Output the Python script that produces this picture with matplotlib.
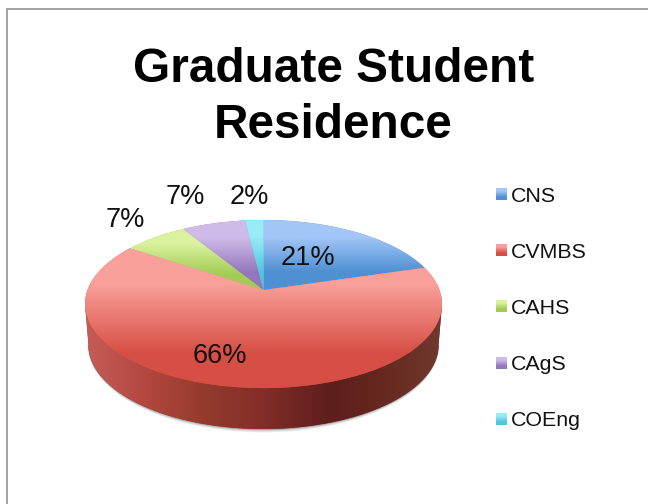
#!/usr/bin/env python3
"""Graduate Student Residence - tilted 3D style pie"""

import matplotlib
matplotlib.use('Agg')
import matplotlib.pyplot as plt
from matplotlib.path import Path
from matplotlib.patches import PathPatch
from matplotlib.transforms import Transform
import numpy as np

plt.rcParams['font.family'] = ['Liberation Sans', 'DejaVu Sans']

# chart data
categories = ['CNS', 'CVMBS', 'CAHS', 'CAgS', 'COEng']
values = [21, 66, 7, 7, 2]
pct_labels = ['21%', '66%', '7%', '7%', '2%']

# top and bottom colour of each slice gradient
top_colors = [(163, 198, 247), (250, 160, 155), (218, 242, 158), (207, 187, 232), (152, 236, 246)]
bottom_colors = [(78, 144, 210), (214, 78, 68), (163, 204, 84), (148, 118, 188), (78, 198, 224)]

# side wall colours, left to right
side_stops = [85, 150, 200, 263, 330, 380, 442]
side_colors = [(198, 92, 87), (176, 70, 62), (150, 60, 46), (130, 45, 40),
               (94, 30, 28), (100, 40, 30), (112, 56, 46)]

# pixel layout
CX, CY = 263.5, 290
SX, SY = 176, 81.7
TILT = 0.167


class TiltTransform(Transform):
    """Projects the unit pie onto the tilted disc, in pixel coordinates"""
    input_dims = 2
    output_dims = 2

    def transform_non_affine(self, xy):
        xy = np.asarray(xy, dtype=float)
        w = 1 + TILT * xy[:, 1]
        return np.column_stack([CX + SX * xy[:, 0] / w, CY - SY * xy[:, 1] / w])


def gradient(ax, colors, extent, clip=None, vertical=True, zorder=2):
    """Draw a two or more colour gradient image, optionally clipped to a patch"""
    arr = np.array(colors, dtype=float) / 255
    arr = arr[:, None, :] if vertical else arr[None, :, :]
    im = ax.imshow(arr, extent=extent, aspect='auto', interpolation='bilinear', zorder=zorder)
    if clip is not None:
        im.set_clip_path(clip)
    return im


fig = plt.figure(figsize=(6.48, 5.04), dpi=100, facecolor='white')
ax = fig.add_axes([0, 0, 1, 1])

tilt = TiltTransform()
wedges, _ = ax.pie(values, startangle=90, counterclock=False, radius=1,
                   wedgeprops={'linewidth': 0})

ax.set_xlim(0, 648)
ax.set_ylim(504, 0)
ax.axis('off')

# soft shadow under the front edge
t = np.linspace(0, np.pi, 200)
for off, alpha in zip([3.5, 2.5, 1.5, 0.7], [0.06, 0.09, 0.12, 0.16]):
    xs = 263.5 + (175 + off * 0.3) * np.cos(t)
    ys = 345 + (84 + off) * np.sin(t)
    ax.fill(xs, ys, color='black', alpha=alpha, linewidth=0, zorder=0.5)

# side wall
xs = 263.5 + 175 * np.cos(t)
ys = 345 + 84 * np.sin(t)
side_x = np.concatenate([[263.5 - 178.5, 263.5 + 178.5], xs])
side_y = np.concatenate([[304, 304], ys])
side = PathPatch(Path(np.column_stack([side_x, side_y])), facecolor=np.array(side_colors[3]) / 255,
                 linewidth=0, zorder=1)
ax.add_patch(side)
xi = np.linspace(side_stops[0], side_stops[-1], 120)
ramp = np.array([np.interp(xi, side_stops, [c[k] for c in side_colors]) for k in range(3)]).T
gradient(ax, ramp, (85, 442, 430, 300), clip=side, vertical=False, zorder=1.5)

# slices of the top face
for wedge, c_top, c_bot in zip(wedges, top_colors, bottom_colors):
    wedge.set_transform(tilt + ax.transData)
    wedge.set_facecolor(np.array(c_bot) / 255)
    wedge.set_zorder(2)
    verts = tilt.transform(wedge.get_patch_transform().transform(wedge.get_path().vertices))
    extent = (verts[:, 0].min() - 2, verts[:, 0].max() + 2, verts[:, 1].max(), verts[:, 1].min())
    gradient(ax, [c_top, c_bot], extent, clip=wedge, zorder=2.5)

ax.set_xlim(0, 648)
ax.set_ylim(504, 0)

# percentage labels
label_x = [308, 220, 125, 185, 249]
label_y = [258, 356, 220, 197, 197]
for txt, lx, ly in zip(pct_labels, label_x, label_y):
    ax.text(lx, ly, txt, fontsize=19.5, ha='center', va='center', color='#111111', zorder=5)

# legend
legend_y = [194, 250, 306, 363, 419]
for name, ly, c_top, c_bot in zip(categories, legend_y, top_colors, bottom_colors):
    gradient(ax, [c_top, c_bot], (496, 507, ly + 6, ly - 6), zorder=3)
    ax.text(511, ly + 2, name, fontsize=15.4, ha='left', va='center', color='#111111', zorder=5)

ax.set_xlim(0, 648)
ax.set_ylim(504, 0)

# title
ax.text(333.5, 97.5, 'Graduate Student\nResidence', fontsize=34.4, fontweight='bold',
        ha='center', va='center', linespacing=1.29, color='black', zorder=5)

# frame of the slide
ax.plot([7, 7, 648], [504, 8.7, 8.7], color='#9a9a9a', linewidth=1.3, zorder=6,
        solid_joinstyle='miter')

fig.savefig('out.png', dpi=100)
